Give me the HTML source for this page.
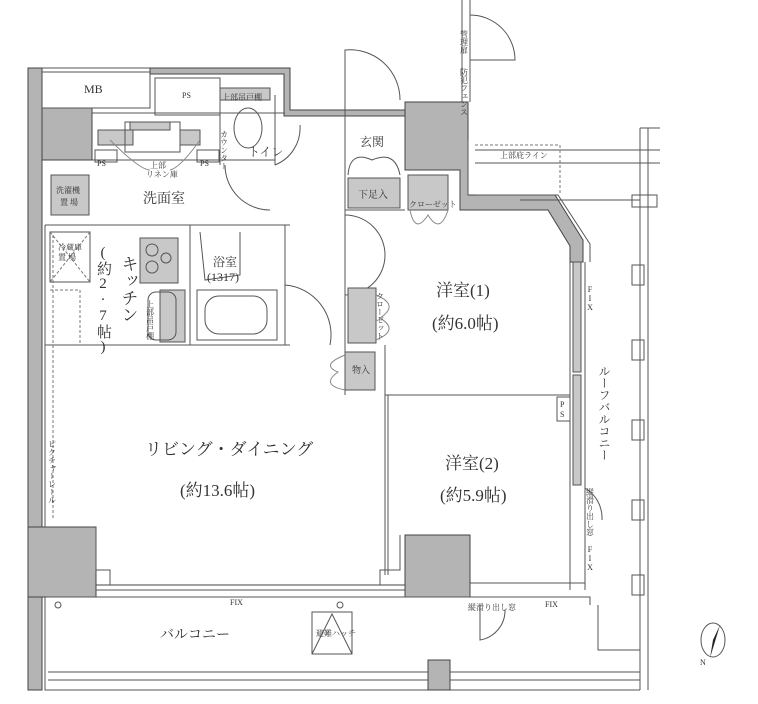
<!DOCTYPE html>
<html><head><meta charset="utf-8"><style>
html,body{margin:0;padding:0;background:#fff}
svg{display:block}
text{font-family:"Liberation Serif","Noto Serif CJK SC","Noto Sans CJK JP",serif;fill:#333}
.w{fill:#b4b4b4;stroke:#444;stroke-width:1}
.l{fill:none;stroke:#555;stroke-width:1}
.t{fill:none;stroke:#888;stroke-width:1}
.d{fill:none;stroke:#777;stroke-width:1;stroke-dasharray:3 2}
.g{fill:#c8c8c8;stroke:#555;stroke-width:1}
.s{font-size:8px}
.m{font-size:12px}
.b{font-size:17px}
.u{text-orientation:upright}
</style></head><body>
<svg width="758" height="704" viewBox="0 0 758 704" xmlns="http://www.w3.org/2000/svg">
<rect class="w" x="28" y="68" width="14" height="622"/>
<rect class="w" x="42" y="108" width="50" height="52"/>
<rect class="w" x="28" y="527" width="68" height="70"/>
<path class="l" d="M42 68 H150 V108 H42"/>
<path class="l" d="M42 72 H150"/>
<path class="w" d="M150 68 H290 V110 H410 V116 H284 V74 H150 Z"/>
<rect class="l" x="155" y="78" width="65" height="37" />
<rect class="g" x="220" y="88" width="50" height="12"/>
<path class="w" d="M405 102 H468 V195 H555 L583 240 V262 H570 V246 L548 210 H460 V170 H405 Z"/>
<path class="l" d="M468 195 V140 M476 195 H558 L590 244 V262"/>
<path class="l" d="M92 160 H275 M92 113 H285 M275 95 V165 M220 88 V165"/>
<rect class="g" x="98" y="130" width="35" height="15"/>
<rect class="g" x="180" y="130" width="20" height="15"/>
<rect class="l" x="125" y="122" width="55" height="30"/>
<rect class="g" x="130" y="122" width="40" height="8"/>
<rect class="l" x="95" y="150" width="22" height="12"/>
<rect class="l" x="197" y="150" width="22" height="12"/>
<path class="t" d="M110 140 Q140 170 150 170 M200 140 Q180 168 170 170"/>
<ellipse class="l" cx="248" cy="128" rx="14" ry="20"/>
<path class="l" d="M275 165 A40 40 0 0 0 300 125 M225 165 A45 45 0 0 0 270 210"/>
<rect class="g" x="51" y="175" width="38" height="40"/>
<path class="l" d="M45 225 H290 M190 225 V345 M285 225 V345 M45 345 H290"/>
<rect class="l" x="50" y="232" width="40" height="50"/>
<path class="d" d="M50 232 L90 282 M90 232 L50 282"/>
<path class="d" d="M50 290 H80 V345"/>
<rect class="g" x="140" y="238" width="38" height="45"/>
<circle class="l" cx="152" cy="250" r="6"/><circle class="l" cx="152" cy="267" r="6"/><circle class="l" cx="166" cy="258" r="5"/>
<rect class="g" x="160" y="290" width="25" height="52"/>
<rect class="l" x="148" y="292" width="28" height="48" rx="8"/>
<rect class="l" x="197" y="290" width="80" height="50"/>
<rect class="l" x="205" y="296" width="62" height="38" rx="14"/>
<path class="l" d="M200 232 L205 280 L240 275 L240 232"/>
<path class="l" d="M345 100 V345 M345 210 H405 M385 345 V395 H570 M345 395 V215"/>
<path class="l" d="M345 100 V50 A50 50 0 0 1 400 100"/>
<rect class="g" x="348" y="178" width="52" height="30"/>
<path class="l" d="M348 175 Q350 150 372 160 Q395 150 400 175"/>
<rect class="g" x="408" y="175" width="40" height="35"/>
<path class="t" d="M410 210 Q415 235 428 215 Q440 235 448 210"/>
<path class="l" d="M345 215 A40 40 0 0 1 345 295 M285 285 A50 50 0 0 1 330 345"/>
<rect class="g" x="348" y="288" width="28" height="55"/>
<path class="t" d="M376 295 Q400 305 380 318 Q400 330 376 340"/>
<rect class="g" x="345" y="352" width="30" height="38"/>
<path class="t" d="M345 355 Q320 365 338 372 Q320 385 345 390"/>
<path class="l" d="M570 262 V590 M585 262 V590 M470 583 H585"/>
<rect class="g" x="573" y="262" width="8" height="110"/>
<rect class="g" x="573" y="375" width="8" height="110"/>
<rect class="l" x="557" y="397" width="13" height="24"/>
<path class="l" d="M585 488 A35 35 0 0 1 602 520"/>
<path class="l" d="M385 395 V575 M388 395 V575"/>
<rect class="w" x="405" y="535" width="65" height="62"/>
<rect class="w" x="96" y="585" width="309" height="12" style="fill:#fff"/>
<path class="l" d="M96 590 H405"/>
<path class="l" d="M96 527 V570 H110 V585 M380 585 V570 H400 V535"/>
<path class="l" d="M45 225 V527"/>
<path class="d" d="M53 235 V520"/>
<path class="l" d="M45 597 H590 V605 M45 597 V690 H640 M48 672 H640 M48 680 H640 M598 605 V650 H640"/>
<rect class="w" x="428" y="660" width="22" height="30"/>
<circle class="l" cx="58" cy="605" r="3"/><circle class="l" cx="340" cy="605" r="3"/>
<rect class="l" x="312" y="612" width="40" height="42"/>
<path class="l" d="M312 654 L332 614 L352 654"/>
<path class="l" d="M480 605 V640 A30 30 0 0 0 505 610"/>
<path class="l" d="M640 128 V690 M648 128 V690 M660 128 H640 M475 150 H660 M475 163 H660 M520 200 H640"/>
<path class="d" d="M475 145 H560 V195"/>
<rect class="l" x="632" y="195" width="25" height="12"/>
<rect class="l" x="632" y="265" width="12" height="20"/>
<rect class="l" x="632" y="340" width="12" height="20"/>
<rect class="l" x="632" y="420" width="12" height="20"/>
<rect class="l" x="632" y="500" width="12" height="20"/>
<rect class="l" x="632" y="575" width="12" height="20"/>
<path class="l" d="M462 0 V102 M470 0 V102 M470 15 A45 45 0 0 1 515 60 H470"/>
<ellipse class="l" cx="713" cy="640" rx="12" ry="17"/>
<path d="M713 640 L720 625 L710 658 Z" fill="#222"/>
<text class="m" x="84" y="93">MB</text>
<text class="s" x="182" y="98">PS</text>
<text class="s" x="222" y="100">上部吊戸棚</text>
<text class="s" x="97" y="166">PS</text>
<text class="s" x="200" y="166">PS</text>
<text class="s" x="150" y="168">上部</text><text class="s" x="146" y="177">リネン庫</text>
<text class="m" x="248" y="156">トイレ</text>
<text class="s" x="224" y="130" writing-mode="tb">カウンター</text>
<text class="s" x="56" y="193">洗濯機</text><text class="s" x="60" y="205">置 場</text>
<text class="b" x="143" y="203" style="font-size:14px">洗面室</text>
<text class="m" x="360" y="146">玄関</text>
<text class="s" x="358" y="198" style="font-size:10px">下足入</text>
<text class="s" x="409" y="207">クローゼット</text>
<text class="s" x="58" y="250">冷蔵庫</text><text class="s" x="58" y="260">置 場</text>
<text class="b" x="128" y="255" writing-mode="tb">キッチン</text>
<text class="b u" x="103" y="245" writing-mode="tb" style="font-size:15px">(約2·7帖)</text>
<text class="m" x="213" y="266">浴室</text><text class="m" x="207" y="281">(1317)</text>
<text class="s" x="150" y="300" writing-mode="tb">上部吊戸棚</text>
<text class="s" x="380" y="292" writing-mode="tb">クローゼット</text>
<text class="b" x="436" y="296">洋室(1)</text>
<text class="b" x="432" y="329">(約6.0帖)</text>
<text class="s" x="352" y="373" style="font-size:9px">物入</text>
<text class="s" x="560" y="407">P</text><text class="s" x="560" y="417">S</text>
<text class="m" x="604" y="365" writing-mode="tb">ルーフバルコニー</text>
<text class="b" x="145" y="455">リビング・ダイニング</text>
<text class="b" x="180" y="496">(約13.6帖)</text>
<text class="b" x="445" y="469">洋室(2)</text>
<text class="b" x="440" y="501">(約5.9帖)</text>
<text class="s" x="52" y="440" writing-mode="tb">ピクチャーレール</text>
<text class="s" x="230" y="605">FIX</text>
<text class="s" x="545" y="607">FIX</text>
<text class="s u" x="590" y="285" writing-mode="tb">FIX</text>
<text class="s u" x="590" y="545" writing-mode="tb">FIX</text>
<text class="s" x="590" y="488" writing-mode="tb">縦滑り出し窓</text>
<text class="s" x="468" y="610">縦滑り出し窓</text>
<text class="b" x="160" y="639" style="font-size:14px">バルコニー</text>
<text class="s" x="316" y="636">避難ハッチ</text>
<text class="s" x="500" y="158">上部庇ライン</text>
<text class="s" x="464" y="30" writing-mode="tb">管理扉</text>
<text class="s" x="464" y="68" writing-mode="tb">防犯フェンス</text>
<text class="s" x="700" y="665">N</text>
</svg>
</body></html>
